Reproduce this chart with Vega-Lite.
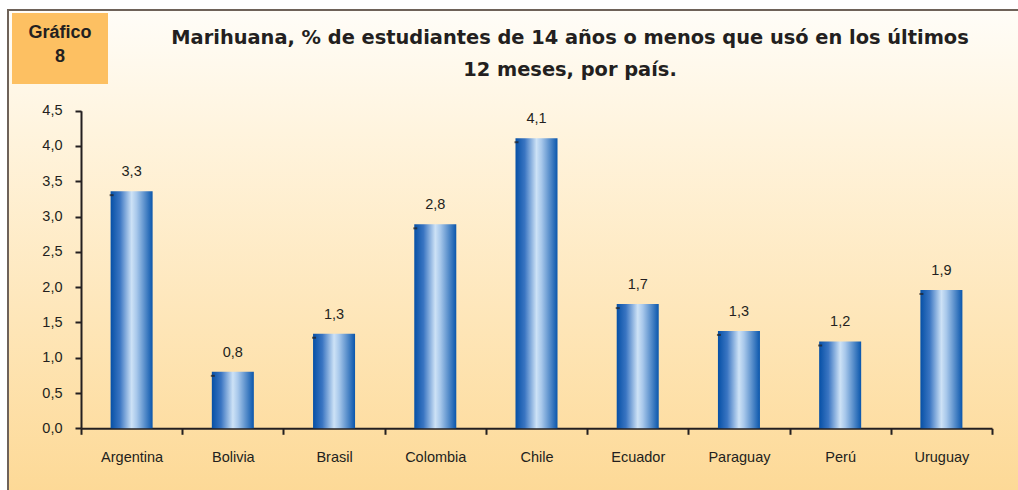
{
  "$schema": "https://vega.github.io/schema/vega-lite/v6.json",
  "autosize": {"type": "fit", "contains": "padding"},
  "width": 1018,
  "height": 490,
  "padding": {"left": 8, "top": 10, "right": -4, "bottom": -4},
  "background": "#ffffff",
  "config": {
    "view": {
      "fill": {"gradient": "linear", "x1": 0, "y1": 0, "x2": 0, "y2": 1,
        "stops": [
          {"offset": 0, "color": "#fffdf8"},
          {"offset": 0.25, "color": "#fff4de"},
          {"offset": 1, "color": "#fdd996"}
        ]},
      "stroke": "#6e6259",
      "strokeWidth": 2
    },
    "font": "Liberation Sans"
  },
  "title": {
    "text": ["Marihuana, % de estudiantes de 14 años o menos que usó en los últimos", "12 meses, por país."],
    "font": "DejaVu Sans",
    "fontSize": 19.4,
    "fontWeight": "bold",
    "color": "#231f20",
    "anchor": "middle",
    "frame": "group",
    "dx": 55,
    "offset": -70,
    "baseline": "top",
    "lineHeight": 32
  },
  "data": {
    "values": [
      {"pais": "Argentina", "valor": 3.36, "etiqueta": "3,3", "grafico": "8"},
      {"pais": "Bolivia", "valor": 0.80, "etiqueta": "0,8", "grafico": "8"},
      {"pais": "Brasil", "valor": 1.34, "etiqueta": "1,3", "grafico": "8"},
      {"pais": "Colombia", "valor": 2.89, "etiqueta": "2,8", "grafico": "8"},
      {"pais": "Chile", "valor": 4.11, "etiqueta": "4,1", "grafico": "8"},
      {"pais": "Ecuador", "valor": 1.76, "etiqueta": "1,7", "grafico": "8"},
      {"pais": "Paraguay", "valor": 1.38, "etiqueta": "1,3", "grafico": "8"},
      {"pais": "Perú", "valor": 1.23, "etiqueta": "1,2", "grafico": "8"},
      {"pais": "Uruguay", "valor": 1.96, "etiqueta": "1,9", "grafico": "8"}
    ]
  },
  "encoding": {
    "x": {
      "field": "pais", "type": "nominal", "sort": null,
      "scale": {"range": [73, 984], "paddingInner": 0, "paddingOuter": 0},
      "axis": {
        "orient": "bottom", "offset": -65.7, "title": null, "labelAngle": 0,
        "tickBand": "extent", "tickSize": 6, "tickWidth": 2, "tickColor": "#231f20",
        "domainColor": "#231f20", "domainWidth": 2, "labelFontSize": 14.5,
        "labelColor": "#231f20", "labelPadding": 16, "labelFont": "Liberation Sans"
      }
    },
    "y": {
      "field": "valor", "type": "quantitative",
      "scale": {"domain": [0, 4.5], "range": [418.3, 100.7], "nice": false},
      "axis": {
        "offset": -73, "title": null, "grid": false,
        "values": [0, 0.5, 1, 1.5, 2, 2.5, 3, 3.5, 4, 4.5],
        "labelExpr": "replace(format(datum.value, '.1f'), '.', ',')",
        "tickSize": 6, "tickWidth": 2, "tickColor": "#231f20",
        "domainColor": "#231f20", "domainWidth": 2, "labelFontSize": 14.5,
        "labelColor": "#231f20", "labelPadding": 13, "labelFont": "Liberation Sans"
      }
    }
  },
  "layer": [
    {
      "mark": {
        "type": "bar",
        "width": {"band": 0.415},
        "fill": {"gradient": "linear", "x1": 0, "y1": 0, "x2": 1, "y2": 0,
          "stops": [
            {"offset": 0, "color": "#0650a6"},
            {"offset": 0.22, "color": "#3a75c2"},
            {"offset": 0.5, "color": "#cde2f6"},
            {"offset": 0.62, "color": "#a8c8eb"},
            {"offset": 1, "color": "#0a56ac"}
          ]},
        "stroke": null
      }
    },
    {
      "mark": {"type": "tick", "orient": "horizontal", "size": 4, "thickness": 2, "xOffset": -20, "yOffset": 4, "color": "#231f20"}
    },
    {
      "mark": {"type": "text", "baseline": "bottom", "dy": -12, "fontSize": 14.5, "font": "Liberation Sans"},
      "encoding": {
        "text": {"field": "etiqueta"},
        "color": {
          "field": "grafico", "type": "nominal",
          "scale": {"range": ["#231f20"]},
          "legend": {
            "title": ["Gráfico", "8"],
            "orient": "none", "legendX": 4, "legendY": 3,
            "fillColor": "#fdc062", "padding": 11,
            "titleFont": "Liberation Sans", "titleFontSize": 18, "titleFontWeight": "bold",
            "titleColor": "#231f20", "titleAlign": "center", "titleAnchor": "middle",
            "titleLineHeight": 24, "titlePadding": 2,
            "symbolSize": 0, "symbolOpacity": 0, "symbolStrokeWidth": 0,
            "labelExpr": "''", "labelFontSize": 0, "labelOffset": 64
          }
        }
      }
    }
  ]
}
